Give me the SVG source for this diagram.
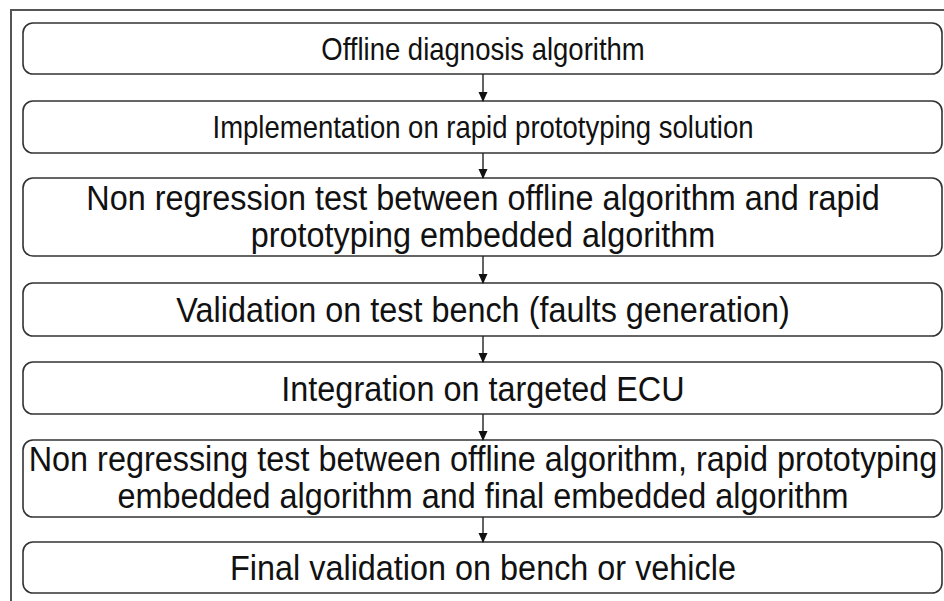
<svg xmlns="http://www.w3.org/2000/svg" width="944" height="601" viewBox="0 0 944 601">
<style>
.box{fill:#fff;stroke:#333;stroke-width:1.6}
.t{font-family:"Liberation Sans",Arial,sans-serif;font-size:32.4px;fill:#111;text-anchor:middle}
.s{font-size:27.5px}
.c{stroke:#222;stroke-width:1.4;fill:none}
.frame{stroke:#555;stroke-width:2;fill:none}
</style>
<defs>
<marker id="ah" markerWidth="10" markerHeight="10" refX="9" refY="5" orient="auto" markerUnits="userSpaceOnUse"><path d="M0,0.5 L10,5 L0,9.5 Z" fill="#111"/></marker>
</defs>
<rect width="944" height="601" fill="#fff"/>
<path class="frame" d="M11,601 V10 H944"/>
<g id="n1"><rect class="box" x="23" y="23" width="919" height="51" rx="10"/><text class="t s" transform="translate(483,60) scale(1,1.15)">Offline diagnosis algorithm</text></g>
<g id="n2"><rect class="box" x="23" y="101" width="919" height="52" rx="10"/><text class="t s" transform="translate(483,138) scale(1,1.15)">Implementation on rapid prototyping solution</text></g>
<g id="n3"><rect class="box" x="23" y="178" width="919" height="78" rx="10"/><text class="t" transform="translate(483,210) scale(1,1.1)">Non regression test between offline algorithm and rapid</text><text class="t" transform="translate(483,247) scale(1,1.1)">prototyping embedded algorithm</text></g>
<g id="n4"><rect class="box" x="23" y="283" width="919" height="53" rx="10"/><text class="t" transform="translate(483,322) scale(1,1.1)">Validation on test bench (faults generation)</text></g>
<g id="n5"><rect class="box" x="23" y="362" width="919" height="52" rx="10"/><text class="t" transform="translate(483,401) scale(1,1.1)">Integration on targeted ECU</text></g>
<g id="n6"><rect class="box" x="23" y="440" width="919" height="77" rx="10"/><text class="t" transform="translate(483,471) scale(1,1.1)">Non regressing test between offline algorithm, rapid prototyping</text><text class="t" transform="translate(483,508) scale(1,1.1)">embedded algorithm and final embedded algorithm</text></g>
<g id="n7"><rect class="box" x="23" y="542" width="919" height="51" rx="10"/><text class="t" transform="translate(483,580) scale(1,1.1)">Final validation on bench or vehicle</text></g>
<g id="connectors">
<line class="c" x1="483" y1="74" x2="483" y2="101" marker-end="url(#ah)"/>
<line class="c" x1="483" y1="153" x2="483" y2="178" marker-end="url(#ah)"/>
<line class="c" x1="483" y1="256" x2="483" y2="283" marker-end="url(#ah)"/>
<line class="c" x1="483" y1="336" x2="483" y2="362" marker-end="url(#ah)"/>
<line class="c" x1="483" y1="414" x2="483" y2="440" marker-end="url(#ah)"/>
<line class="c" x1="483" y1="517" x2="483" y2="542" marker-end="url(#ah)"/>
</g>
</svg>
